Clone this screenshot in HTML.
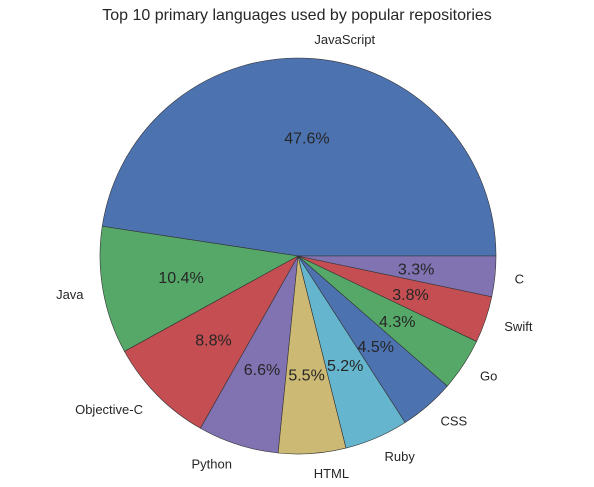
<!DOCTYPE html>
<html><head><meta charset="utf-8"><style>
body{margin:0;background:#fff;}
svg{display:block;font-family:"Liberation Sans","DejaVu Sans",sans-serif;}
</style></head><body>
<svg id="chart" width="594" height="487" viewBox="0 0 594 487">
<text x="297" y="20" text-anchor="middle" font-size="16" fill="#262626">Top 10 primary languages used by popular repositories</text>
<g id="slices"></g>
</svg>
<script>
const categories = ["JavaScript","Java","Objective-C","Python","HTML","Ruby","CSS","Go","Swift","C"];
const values = [47.6,10.4,8.8,6.6,5.5,5.2,4.5,4.3,3.8,3.3];
const colors = ["#4C72B0","#55A868","#C44E52","#8172B2","#CCB974","#64B5CD","#4C72B0","#55A868","#C44E52","#8172B2"];
const cx=298, cy=256, r=198;
const g=document.getElementById('slices');
const ns="http://www.w3.org/2000/svg";
const total=values.reduce((a,b)=>a+b,0);
let a0=0;
function pt(a,rr){return [cx+rr*Math.cos(a), cy-rr*Math.sin(a)];}
values.forEach((v,i)=>{
  const a1=a0+v/total*2*Math.PI;
  const p0=pt(a0,r), p1=pt(a1,r);
  const large=(a1-a0)>Math.PI?1:0;
  const path=document.createElementNS(ns,'path');
  path.setAttribute('d',`M${cx},${cy} L${p0[0]},${p0[1]} A${r},${r} 0 ${large} 0 ${p1[0]},${p1[1]} Z`);
  path.setAttribute('fill',colors[i]);
  path.setAttribute('stroke','#333');
  path.setAttribute('stroke-width','0.6');
  
  
  g.appendChild(path);
  const am=(a0+a1)/2;
  const lp=pt(am,r*1.1);
  const t=document.createElementNS(ns,'text');
  t.setAttribute('x',lp[0]);t.setAttribute('y',lp[1]+5);
  t.setAttribute('font-size','13');t.setAttribute('fill','#262626');
  t.setAttribute('text-anchor',Math.abs(Math.cos(am))<0.02?'middle':(Math.cos(am)>0?'start':'end'));
  t.textContent=categories[i];
  
  
  g.appendChild(t);
  const pp=pt(am,r*0.6);
  const t2=document.createElementNS(ns,'text');
  t2.setAttribute('x',pp[0]);t2.setAttribute('y',pp[1]+6);
  t2.setAttribute('font-size','16');t2.setAttribute('fill','#262626');
  t2.setAttribute('text-anchor','middle');
  t2.textContent=v.toFixed(1)+'%';
  
  
  g.appendChild(t2);
  a0=a1;
});
</script>
</body></html>
